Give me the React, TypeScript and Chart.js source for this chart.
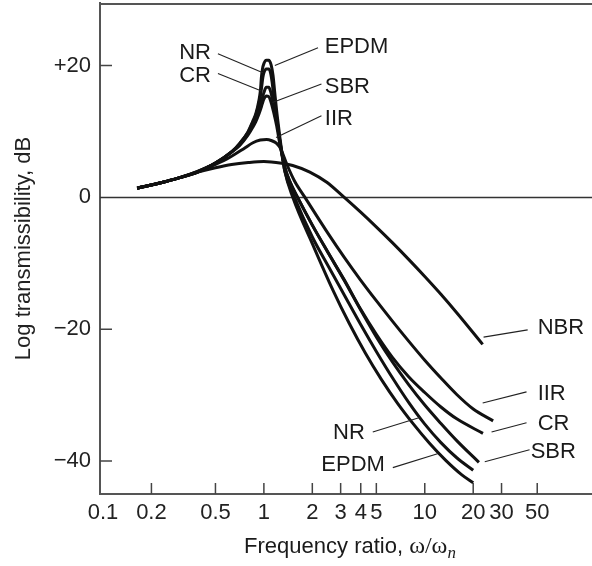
import React, { useEffect, useRef } from 'react';
import { Chart, registerables } from 'chart.js';

Chart.register(...registerables);

const SANS = '"Liberation Sans", Arial, Helvetica, sans-serif';
const SERIF = '"Liberation Serif", "Times New Roman", serif';

// Axis tick values
const FREQ_TICKS = [0.1, 0.2, 0.5, 1, 2, 3, 4, 5, 10, 20, 30, 50];
const DB_TICKS = [-40, -20, 0, 20];

// Series: frequency ratio (x) and log transmissibility in dB (y)
const NBR_X = [0.163, 0.236, 0.3, 0.384, 0.5, 0.63, 0.8, 1.0, 1.31, 1.51, 1.93, 2.46, 3.16, 3.98, 5.01, 6.31, 7.94, 10, 12.6, 15.8, 22.9];
const NBR_Y = [1.4, 2.3, 3.0, 3.8, 4.5, 5.0, 5.3, 5.45, 5.15, 4.85, 3.85, 2.3, 0, -2.2, -4.5, -6.9, -9.4, -12.0, -14.7, -17.5, -22.3];

const IIR_X = [0.163, 0.236, 0.3, 0.384, 0.5, 0.615, 0.75, 0.855, 0.95, 1.04, 1.12, 1.2, 1.27, 1.39, 1.55, 1.8, 2.51, 3.16, 3.98, 5.01, 6.31, 7.94, 10, 12.6, 15.8, 20, 26.6];
const IIR_Y = [1.4, 2.3, 3.0, 3.8, 5.0, 6.1, 7.4, 8.3, 8.7, 8.8, 8.6, 8.2, 7.4, 5.0, 2.5, 0, -5.5, -9.1, -12.5, -15.7, -18.8, -21.8, -24.7, -27.4, -29.9, -32.1, -33.9];

const CR_X = [0.163, 0.236, 0.3, 0.384, 0.5, 0.63, 0.708, 0.794, 0.851, 0.891, 0.933, 0.955, 0.977, 1.0, 1.035, 1.072, 1.109, 1.148, 1.202, 1.259, 1.349, 1.45, 1.62, 2.0, 2.51, 3.16, 3.98, 5.01, 6.31, 7.94, 10, 12.6, 15.8, 23];
const CR_Y = [1.4, 2.3, 3.0, 3.8, 5.2, 6.9, 8.0, 9.6, 10.9, 11.9, 13.2, 14.0, 15.0, 15.9, 16.7, 16.7, 15.8, 14.2, 11.6, 8.4, 4.6, 2.4, 0, -4.2, -8.4, -12.5, -16.9, -20.8, -24.3, -27.2, -29.6, -31.8, -33.6, -35.8];

const SBR_X = [0.163, 0.236, 0.3, 0.384, 0.5, 0.63, 0.708, 0.794, 0.851, 0.891, 0.933, 0.955, 0.977, 1.0, 1.035, 1.072, 1.109, 1.148, 1.202, 1.259, 1.349, 1.45, 1.62, 2.0, 2.51, 3.16, 3.98, 5.01, 6.31, 7.94, 10, 12.6, 15.8, 21.7];
const SBR_Y = [1.4, 2.3, 3.0, 3.8, 5.2, 6.9, 7.9, 9.4, 10.6, 11.5, 12.7, 13.4, 14.2, 14.9, 15.4, 15.3, 14.4, 13.0, 10.8, 8.0, 4.6, 2.4, 0, -4.2, -8.4, -12.6, -17.0, -21.2, -25.0, -28.4, -31.5, -34.3, -36.9, -40.2];

const NR_X = [0.163, 0.236, 0.3, 0.384, 0.5, 0.63, 0.708, 0.794, 0.851, 0.891, 0.933, 0.955, 0.97, 0.985, 1.0, 1.035, 1.072, 1.1, 1.125, 1.15, 1.202, 1.259, 1.349, 1.55, 2.0, 2.51, 3.16, 3.98, 5.01, 6.31, 7.94, 10, 12.6, 15.8, 20];
const NR_Y = [1.4, 2.3, 3.0, 3.9, 5.2, 6.9, 8.2, 9.8, 11.3, 12.5, 14.3, 15.6, 16.9, 18.2, 18.9, 19.5, 19.5, 18.9, 17.5, 15.5, 12.0, 8.5, 4.0, 0, -6.0, -10.4, -14.8, -19.2, -23.4, -27.4, -31.1, -34.4, -37.2, -39.5, -41.4];

const EPDM_X = [0.163, 0.236, 0.3, 0.384, 0.5, 0.63, 0.708, 0.794, 0.851, 0.891, 0.933, 0.953, 0.965, 0.98, 1.0, 1.035, 1.072, 1.109, 1.14, 1.165, 1.202, 1.23, 1.259, 1.29, 1.349, 1.514, 2.0, 2.69, 3.39, 4.27, 5.37, 6.76, 8.51, 10.7, 13.5, 17.0, 20];
const EPDM_Y = [1.4, 2.3, 3.0, 3.9, 5.2, 6.9, 8.2, 9.9, 11.5, 12.7, 14.8, 16.4, 18.2, 19.5, 20.3, 20.8, 20.8, 20.1, 18.5, 16.2, 13.0, 11.0, 9.0, 7.1, 4.0, 0, -7.0, -14.1, -19.1, -23.6, -27.6, -31.2, -34.4, -37.3, -39.9, -42.1, -43.3];

const SERIES_NAMES = ['NBR', 'IIR', 'CR', 'SBR', 'NR', 'EPDM'];
const SERIES_X = [NBR_X, IIR_X, CR_X, SBR_X, NR_X, EPDM_X];
const SERIES_Y = [NBR_Y, IIR_Y, CR_Y, SBR_Y, NR_Y, EPDM_Y];

// Curve labels with leader lines, in data coordinates (frequency ratio, dB)
const LABEL_TEXT = ['NR', 'CR', 'EPDM', 'SBR', 'IIR', 'NBR', 'IIR', 'CR', 'SBR', 'NR', 'EPDM'];
const LABEL_X = [0.469, 0.469, 2.39, 2.39, 2.39, 50.3, 50.3, 50.3, 45.5, 4.24, 5.65];
const LABEL_Y = [22.1, 18.6, 23.0, 16.9, 12.0, -19.7, -29.7, -34.2, -38.4, -35.6, -40.5];
const LABEL_SIDE = ['right', 'right', 'left', 'left', 'left', 'left', 'left', 'left', 'left', 'right', 'right'];
const LEADER_X1 = [0.518, 0.518, 1.17, 1.13, 1.19, 23.2, 22.9, 26.0, 23.6, 4.75, 6.33];
const LEADER_Y1 = [21.8, 18.8, 20.0, 14.4, 9.1, -21.2, -31.2, -35.6, -40.1, -35.6, -41.0];
const LEADER_X2 = [0.986, 0.958, 2.17, 2.28, 2.28, 43.6, 42.9, 42.9, 44.8, 9.3, 12.0];
const LEADER_Y2 = [18.9, 16.2, 22.7, 17.2, 12.4, -20.1, -29.5, -34.2, -38.3, -33.4, -38.9];

const FONT_SIZE = 22;

const decorPlugin = {
  id: 'decor',
  beforeDatasetsDraw(chart: any) {
    const { ctx, chartArea: a, scales } = chart;
    const xs = scales.x;
    const ys = scales.y;
    ctx.save();
    // top frame line
    ctx.strokeStyle = '#555';
    ctx.lineWidth = 2;
    ctx.beginPath();
    ctx.moveTo(a.left, a.top + 1);
    ctx.lineTo(a.right, a.top + 1);
    ctx.stroke();
    // zero line
    const y0 = ys.getPixelForValue(0);
    ctx.strokeStyle = '#333';
    ctx.lineWidth = 1.5;
    ctx.beginPath();
    ctx.moveTo(a.left, y0);
    ctx.lineTo(a.right, y0);
    ctx.stroke();
    // inward tick marks
    ctx.strokeStyle = '#444';
    ctx.lineWidth = 1.5;
    ctx.beginPath();
    for (const v of FREQ_TICKS) {
      if (v < 0.15) continue;
      const px = xs.getPixelForValue(v);
      ctx.moveTo(px, a.bottom);
      ctx.lineTo(px, a.bottom - 11);
    }
    for (const v of DB_TICKS) {
      if (v === 0) continue;
      const py = ys.getPixelForValue(v);
      ctx.moveTo(a.left, py);
      ctx.lineTo(a.left + 12, py);
    }
    ctx.stroke();
    ctx.restore();
  },
  afterDatasetsDraw(chart: any) {
    const { ctx, chartArea: a, scales } = chart;
    const xs = scales.x;
    const ys = scales.y;
    ctx.save();
    ctx.strokeStyle = '#222';
    ctx.lineWidth = 1.1;
    ctx.fillStyle = '#1a1a1a';
    ctx.font = `${FONT_SIZE}px ${SANS}`;
    ctx.textBaseline = 'middle';
    LABEL_TEXT.forEach((t, i) => {
      ctx.beginPath();
      ctx.moveTo(xs.getPixelForValue(LEADER_X1[i]), ys.getPixelForValue(LEADER_Y1[i]));
      ctx.lineTo(xs.getPixelForValue(LEADER_X2[i]), ys.getPixelForValue(LEADER_Y2[i]));
      ctx.stroke();
      ctx.textAlign = LABEL_SIDE[i] as CanvasTextAlign;
      ctx.fillText(t, xs.getPixelForValue(LABEL_X[i]), ys.getPixelForValue(LABEL_Y[i]) + 1);
    });
    // x-axis title with mixed fonts
    const parts = [
      { s: 'Frequency ratio, ', f: `${FONT_SIZE}px ${SANS}`, dy: 0 },
      { s: 'ω/ω', f: `24px ${SERIF}`, dy: 0 },
      { s: 'n', f: `italic 17px ${SERIF}`, dy: 5 },
    ];
    let w = 0;
    for (const p of parts) {
      ctx.font = p.f;
      w += ctx.measureText(p.s).width;
    }
    let x = (a.left + a.right) / 2 + 4 - w / 2;
    const yBase = xs.bottom - 13;
    ctx.textAlign = 'left';
    ctx.textBaseline = 'alphabetic';
    for (const p of parts) {
      ctx.font = p.f;
      ctx.fillText(p.s, x, yBase + p.dy);
      x += ctx.measureText(p.s).width;
    }
    ctx.restore();
  },
};

export default function App() {
  const ref = useRef<HTMLCanvasElement | null>(null);
  useEffect(() => {
    if (!ref.current) return;
    const datasets = SERIES_NAMES.map((name, k) => ({
      label: name,
      data: SERIES_X[k].map((v, i) => ({ x: v, y: SERIES_Y[k][i] })),
      showLine: true,
      borderColor: '#111',
      backgroundColor: '#111',
      borderWidth: 3,
      pointRadius: 0,
      fill: false,
      cubicInterpolationMode: 'monotone' as const,
    }));
    const chart = new Chart(ref.current, {
      type: 'scatter',
      data: { datasets },
      plugins: [decorPlugin],
      options: {
        animation: false,
        responsive: false,
        devicePixelRatio: 1,
        layout: { padding: { top: 3, left: 0, right: 0, bottom: 0 } },
        plugins: { legend: { display: false }, tooltip: { enabled: false } },
        scales: {
          x: {
            type: 'logarithmic',
            min: 0.0958,
            max: 109.5,
            afterBuildTicks: (s: any) => {
              s.ticks = FREQ_TICKS.map((value) => ({ value }));
            },
            afterFit: (s: any) => {
              s.height = 72;
              s.paddingLeft = 0;
              s.paddingRight = 0;
            },
            grid: { display: false, drawTicks: false, tickLength: 0 },
            border: { display: true, color: '#555', width: 2 },
            ticks: {
              autoSkip: false,
              maxRotation: 0,
              minRotation: 0,
              padding: 6,
              color: '#222',
              font: { family: SANS, size: FONT_SIZE },
              callback: (v: any) => String(v),
            },
          },
          y: {
            type: 'linear',
            min: -45,
            max: 29.5,
            afterBuildTicks: (s: any) => {
              s.ticks = DB_TICKS.map((value) => ({ value }));
            },
            afterFit: (s: any) => {
              s.width = 100;
              s.paddingTop = 0;
              s.paddingBottom = 0;
            },
            grid: { display: false, drawTicks: false, tickLength: 0 },
            border: { display: true, color: '#555', width: 2 },
            ticks: {
              padding: 9,
              color: '#222',
              font: { family: SANS, size: FONT_SIZE },
              callback: (v: any) => (v > 0 ? '+' + v : v < 0 ? '\u2212' + Math.abs(v) : String(v)),
            },
            title: {
              display: true,
              text: 'Log transmissibility, dB',
              color: '#222',
              font: { family: SANS, size: FONT_SIZE },
              padding: { top: 11, bottom: 0 },
            },
          },
        },
      } as any,
    });
    return () => chart.destroy();
  }, []);
  return (
    <div style={{ position: 'absolute', left: 0, top: 0, width: 592, height: 566, background: '#fff' }}>
      <canvas ref={ref} width={592} height={566} style={{ display: 'block' }} />
    </div>
  );
}
